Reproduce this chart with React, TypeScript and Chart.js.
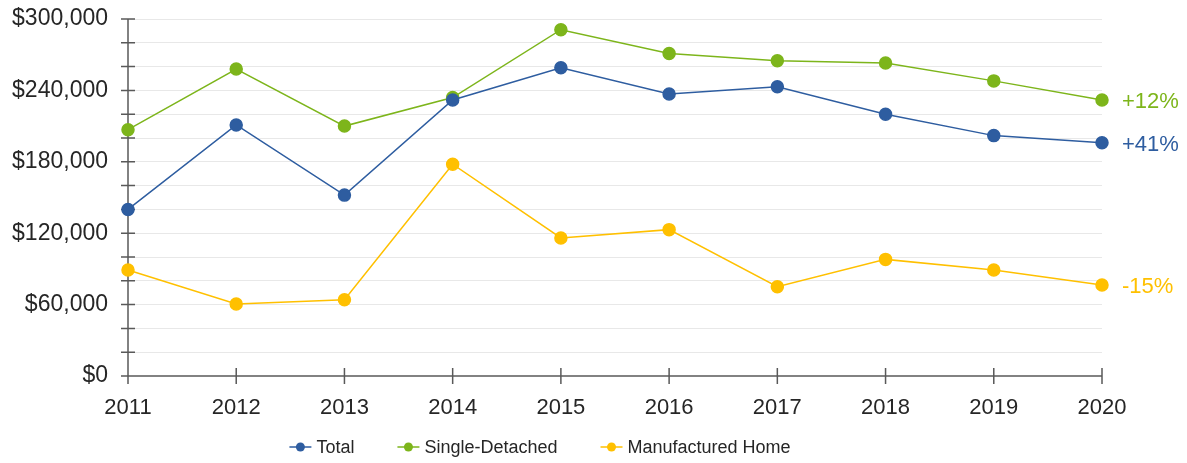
import React, { useEffect, useRef } from 'react';
import { Chart, registerables } from 'chart.js';

Chart.register(...registerables);

const years = ['2011', '2012', '2013', '2014', '2015', '2016', '2017', '2018', '2019', '2020'];
const total = [140000, 211000, 152000, 232000, 259000, 237000, 243000, 220000, 202000, 196000];
const singleDetached = [207000, 258000, 210000, 234000, 291000, 271000, 265000, 263000, 248000, 232000];
const manufactured = [89000, 60500, 64000, 178000, 116000, 123000, 75000, 98000, 89000, 76500];
const seriesNames = ['Total', 'Single-Detached', 'Manufactured Home'];
const seriesColors = ['#2E5DA0', '#7DB51B', '#FFC000'];
const changeLabels = ['+41%', '+12%', '-15%'];
const yMax = 300000;
const yMinorStep = 20000;
const yLabelStep = 60000;

const FONT = '"Liberation Sans", Arial, sans-serif';
const AXIS_COLOR = '#595959';
const TEXT_COLOR = '#262626';

const decorPlugin = {
  id: 'decor',
  beforeDatasetsDraw(chart: any) {
    const { ctx, chartArea: a, scales } = chart;
    const x = scales.x;
    const y = scales.y;
    ctx.save();
    ctx.strokeStyle = AXIS_COLOR;
    ctx.lineWidth = 1.5;
    ctx.beginPath();
    ctx.moveTo(a.left, a.top);
    ctx.lineTo(a.left, a.bottom + 8);
    ctx.moveTo(a.left, a.bottom);
    ctx.lineTo(a.right, a.bottom);
    y.ticks.forEach((t: any) => {
      const py = y.getPixelForValue(t.value);
      ctx.moveTo(a.left - 7, py);
      ctx.lineTo(a.left + 7, py);
    });
    x.ticks.forEach((_t: any, i: number) => {
      const px = x.getPixelForTick(i);
      ctx.moveTo(px, a.bottom - 8);
      ctx.lineTo(px, a.bottom + 8);
    });
    ctx.stroke();
    ctx.restore();
  },
  afterDatasetsDraw(chart: any) {
    const { ctx } = chart;
    ctx.save();
    ctx.font = `22px ${FONT}`;
    ctx.textAlign = 'left';
    ctx.textBaseline = 'middle';
    chart.data.datasets.forEach((ds: any, i: number) => {
      const meta = chart.getDatasetMeta(i);
      const last = meta.data[meta.data.length - 1];
      ctx.fillStyle = ds.borderColor;
      ctx.fillText(changeLabels[i], last.x + 20, last.y + 2);
    });
    ctx.restore();
  },
  afterDraw(chart: any) {
    const { ctx } = chart;
    const opts = chart.options.plugins.decor || {};
    const cx = opts.legendCenterX ?? chart.width / 2;
    const cy = opts.legendY ?? chart.height - 16;
    const markerW = 22;
    const markerGap = 5;
    const itemGap = 43;
    ctx.save();
    ctx.font = `18px ${FONT}`;
    ctx.textBaseline = 'middle';
    ctx.textAlign = 'left';
    const widths = chart.data.datasets.map((ds: any) => ctx.measureText(ds.label).width);
    const totalW = widths.reduce((s: number, w: number) => s + w + markerW + markerGap, 0) + itemGap * (widths.length - 1);
    let xPos = cx - totalW / 2;
    chart.data.datasets.forEach((ds: any, i: number) => {
      ctx.strokeStyle = ds.borderColor;
      ctx.lineWidth = 1.5;
      ctx.beginPath();
      ctx.moveTo(xPos, cy);
      ctx.lineTo(xPos + markerW, cy);
      ctx.stroke();
      ctx.fillStyle = ds.borderColor;
      ctx.beginPath();
      ctx.arc(xPos + markerW / 2, cy, 4.5, 0, Math.PI * 2);
      ctx.fill();
      ctx.fillStyle = TEXT_COLOR;
      ctx.fillText(ds.label, xPos + markerW + markerGap, cy + 1);
      xPos += markerW + markerGap + widths[i] + itemGap;
    });
    ctx.restore();
  },
};

export default function App() {
  const canvasRef = useRef<HTMLCanvasElement | null>(null);

  useEffect(() => {
    document.body.style.margin = '0';
    const canvas = canvasRef.current;
    if (!canvas) return;
    const seriesData = [total, singleDetached, manufactured];
    const chart = new Chart(canvas, {
      type: 'line',
      data: {
        labels: years,
        datasets: seriesData.map((d, i) => ({
          label: seriesNames[i],
          data: d,
          borderColor: seriesColors[i],
          backgroundColor: seriesColors[i],
          pointBackgroundColor: seriesColors[i],
          pointBorderColor: seriesColors[i],
          borderWidth: 1.5,
          pointRadius: 6,
          pointHoverRadius: 6,
          tension: 0,
          fill: false,
        })),
      },
      options: {
        animation: false,
        responsive: true,
        maintainAspectRatio: false,
        layout: { padding: { top: 19, right: 85, bottom: 37, left: 0 } },
        plugins: {
          legend: { display: false },
          tooltip: { enabled: false },
          decor: { legendCenterX: 540, legendY: 447 },
        } as any,
        scales: {
          x: {
            offset: false,
            border: { display: false },
            grid: { display: false, drawTicks: false },
            ticks: {
              color: TEXT_COLOR,
              font: { family: FONT, size: 22 },
              padding: 19,
              maxRotation: 0,
              autoSkip: false,
            },
            afterFit: (scale: any) => {
              scale.height = 50;
              scale.paddingLeft = 0;
              scale.paddingRight = 0;
            },
          },
          y: {
            min: 0,
            max: yMax,
            border: { display: false },
            grid: {
              drawTicks: false,
              lineWidth: 1,
              color: (c: any) => (c.tick && c.tick.value === 0 ? 'rgba(0,0,0,0)' : '#e8e8e8'),
            },
            ticks: {
              stepSize: yMinorStep,
              autoSkip: false,
              color: TEXT_COLOR,
              font: { family: FONT, size: 23 },
              padding: 20,
              callback: (v: any) =>
                Number(v) % yLabelStep === 0 ? '$' + Number(v).toLocaleString('en-US') : '',
            },
            afterFit: (scale: any) => {
              scale.width = 128;
              scale.paddingTop = 0;
              scale.paddingBottom = 0;
            },
          },
        },
      },
      plugins: [decorPlugin],
    });
    return () => chart.destroy();
  }, []);

  return (
    <div style={{ position: 'absolute', left: 0, top: 0, width: 1187, height: 463 }}>
      <canvas ref={canvasRef} />
    </div>
  );
}
